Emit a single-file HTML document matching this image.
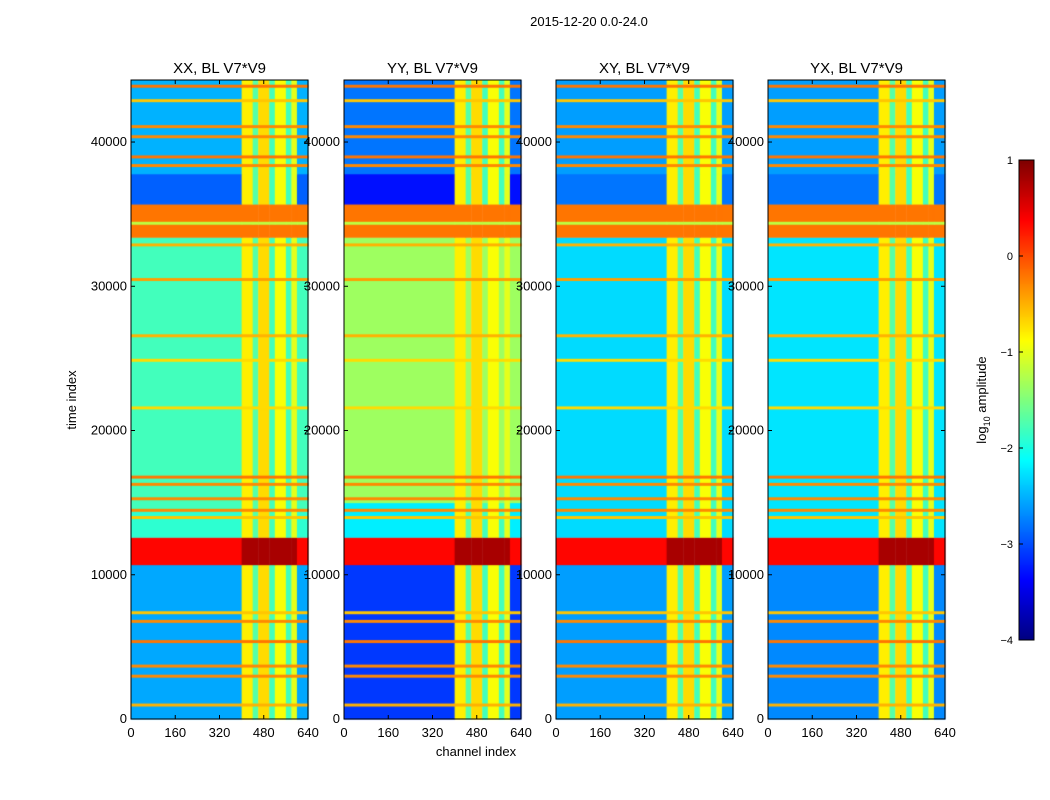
<!DOCTYPE html>
<html><head><meta charset="utf-8">
<style>
body{margin:0;background:#fff;font-family:"Liberation Sans",sans-serif;}
#wrap{position:relative;width:1050px;height:800px;overflow:hidden;background:#fff}
canvas{position:absolute;left:0;top:0}
svg{position:absolute;left:0;top:0}
text{font-family:"Liberation Sans",sans-serif;fill:#000}
</style></head><body>
<div id="wrap">
<canvas id="cv" width="1050" height="800"></canvas>
<svg id="sv" width="1050" height="800"></svg>
</div>
<script>
// ---- data ----
const panelTitles = ["XX, BL V7*V9","YY, BL V7*V9","XY, BL V7*V9","YX, BL V7*V9"];
const xTicks = [0,160,320,480,640];
const yTicks = [0,10000,20000,30000,40000];
const cbTicks = [1,0,-1,-2,-3,-4];
// time bands: [start, end, log10 amplitude]
const bandsXX = [[0,10700,-2.55],[10700,12600,0.35],[12600,14500,-1.9],[14500,33400,-1.8],[33400,35700,-0.2],[35700,37800,-2.9],[37800,44300,-2.5]];
const bandsYY = [[0,10700,-3.1],[10700,12600,0.35],[12600,15000,-2.2],[15000,33400,-1.35],[33400,35700,-0.2],[35700,37800,-3.3],[37800,44300,-2.8]];
const bandsXY = [[0,10700,-2.6],[10700,12600,0.35],[12600,33400,-2.3],[33400,35700,-0.2],[35700,37800,-2.8],[37800,44300,-2.6]];
const bandsYX = [[0,10700,-2.7],[10700,12600,0.35],[12600,33400,-2.25],[33400,35700,-0.2],[35700,37800,-2.8],[37800,44300,-2.6]];
// horizontal RFI lines (time index)
const lineTimes = [900,2900,3600,5300,6700,7300,13900,14400,15200,16200,16700,21500,24800,26500,30400,32800,34300,38300,38900,40300,41000,42800,43800];
const lineVals  = [-0.5,-0.3,-0.3,-0.2,-0.3,-0.6,-0.6,-0.3,-0.3,-0.3,-0.2,-0.7,-0.7,-0.5,-0.4,-0.5,-1.2,-0.3,-0.2,-0.3,-0.3,-0.6,-0.2];
// channel bands: [start, end, log10 amplitude]
const chanBands = [[400,440,-0.8],[440,460,-1.7],[460,500,-0.7],[500,520,-1.8],[520,560,-0.9],[560,580,-1.8],[580,600,-1.0]];
const allBands = [bandsXX,bandsYY,bandsXY,bandsYX];

// ---- layout ----
const panelsX = [131,344,556,768], pw = 177, pTop = 80, pBot = 719;
const tMax = 44300;
const yS = t => pBot - t/tMax*(pBot-pTop);
const xS = (i,c) => panelsX[i] + c/640*pw;
function jet(v){
  let x = (v+4)/5; x=Math.max(0,Math.min(1,x));
  const r=Math.max(0,Math.min(1,1.5-Math.abs(4*x-3)));
  const g=Math.max(0,Math.min(1,1.5-Math.abs(4*x-2)));
  const b=Math.max(0,Math.min(1,1.5-Math.abs(4*x-1)));
  return `rgb(${r*255|0},${g*255|0},${b*255|0})`;
}
const ctx = document.getElementById('cv').getContext('2d');
function cell(i,c0,c1,t0,t1,v){
  ctx.fillStyle=jet(v);
  const x0=xS(i,c0),x1=xS(i,c1),y0=yS(t1),y1=yS(t0);
  ctx.fillRect(x0,y0,x1-x0+0.5,y1-y0+0.5);
}
function colVal(c){for(const b of chanBands) if(c>=b[0]&&c<b[1]) return b[2]; return null;}
const chanEdges=[0,400,440,460,500,520,560,580,600,640];
for(let i=0;i<4;i++){
  for(const b of allBands[i]){
    for(let k=0;k<chanEdges.length-1;k++){
      const c0=chanEdges[k],c1=chanEdges[k+1];
      const cv=colVal(c0);
      let v=b[2];
      if(cv!==null){
        if(b[2]>0.2) v=b[2]+0.45;
        else if(b[2]>-0.5) v=b[2];
        else v=Math.max(b[2],cv);
      }
      cell(i,c0,c1,b[0],b[1],v);
    }
  }
  lineTimes.forEach((t,j)=>{
    for(let k=0;k<chanEdges.length-1;k++){
      cell(i,chanEdges[k],chanEdges[k+1],t,t+170,lineVals[j]);
    }
  });
}
// colorbar
const cbX=1019,cbW=15,cbT=160,cbB=640;
for(let y=cbT;y<cbB;y++){ctx.fillStyle=jet(1-(y-cbT)/(cbB-cbT)*5);ctx.fillRect(cbX,y,cbW,1);}

// ---- axes (svg) ----
const sv=document.getElementById('sv');
const NS='http://www.w3.org/2000/svg';
function mk(tag,attrs,txt,name,parent){
  const e=document.createElementNS(NS,tag);
  for(const k in attrs) e.setAttribute(k,attrs[k]);
  if(txt!==undefined) e.textContent=txt;
  
  
  (parent||sv).appendChild(e); return e;
}
mk('text',{x:589,y:26,'font-size':13,'text-anchor':'middle'},'2015-12-20 0.0-24.0','figure-title');
for(let i=0;i<4;i++){
  const g=mk('g',{},undefined,'panel-'+i);
  mk('rect',{x:panelsX[i],y:pTop,width:pw,height:pBot-pTop,fill:'none',stroke:'#000','stroke-width':1},undefined,'panel-frame',g);
  mk('text',{x:panelsX[i]+pw/2,y:73,'font-size':15,'text-anchor':'middle'},panelTitles[i],'panel-title',g);
  xTicks.forEach(t=>{
    const x=xS(i,t);
    mk('line',{x1:x,x2:x,y1:pBot,y2:pBot-4,stroke:'#000'},undefined,'x-tick',g);
    mk('line',{x1:x,x2:x,y1:pTop,y2:pTop+4,stroke:'#000'},undefined,'x-tick',g);
    mk('text',{x:x,y:737,'font-size':13,'text-anchor':'middle'},t,'x-tick-label',g);
  });
  yTicks.forEach(t=>{
    const y=yS(t);
    mk('line',{x1:panelsX[i],x2:panelsX[i]+4,y1:y,y2:y,stroke:'#000'},undefined,'y-tick',g);
    mk('line',{x1:panelsX[i]+pw,x2:panelsX[i]+pw-4,y1:y,y2:y,stroke:'#000'},undefined,'y-tick',g);
    mk('text',{x:panelsX[i]-4,y:y+4,'font-size':13,'text-anchor':'end'},t,'y-tick-label',g);
  });
}
mk('text',{x:76,y:400,'font-size':13,'text-anchor':'middle',transform:'rotate(-90 76 400)'},'time index','y-axis-title');
mk('text',{x:476,y:756,'font-size':13,'text-anchor':'middle'},'channel index','x-axis-title');
mk('rect',{x:cbX,y:cbT,width:cbW,height:cbB-cbT,fill:'none',stroke:'#000'},undefined,'colorbar-frame');
cbTicks.forEach(v=>{
  const y=cbT+(1-v)/5*(cbB-cbT);
  mk('line',{x1:cbX,x2:cbX+4,y1:y,y2:y,stroke:'#000'},undefined,'colorbar-tick');
  mk('text',{x:1013,y:y+4,'font-size':11,'text-anchor':'end'},v<0?'\u2212'+(-v):v,'colorbar-tick-label');
});
const lab=mk('text',{x:986,y:400,'font-size':13,'text-anchor':'middle',transform:'rotate(-90 986 400)'},'log','colorbar-label');
const sub=document.createElementNS(NS,'tspan');sub.setAttribute('font-size','9');sub.setAttribute('dy','4');sub.textContent='10';lab.appendChild(sub);
const rest=document.createElementNS(NS,'tspan');rest.setAttribute('dy','-4');rest.textContent=' amplitude';lab.appendChild(rest);
</script>
</body></html>
